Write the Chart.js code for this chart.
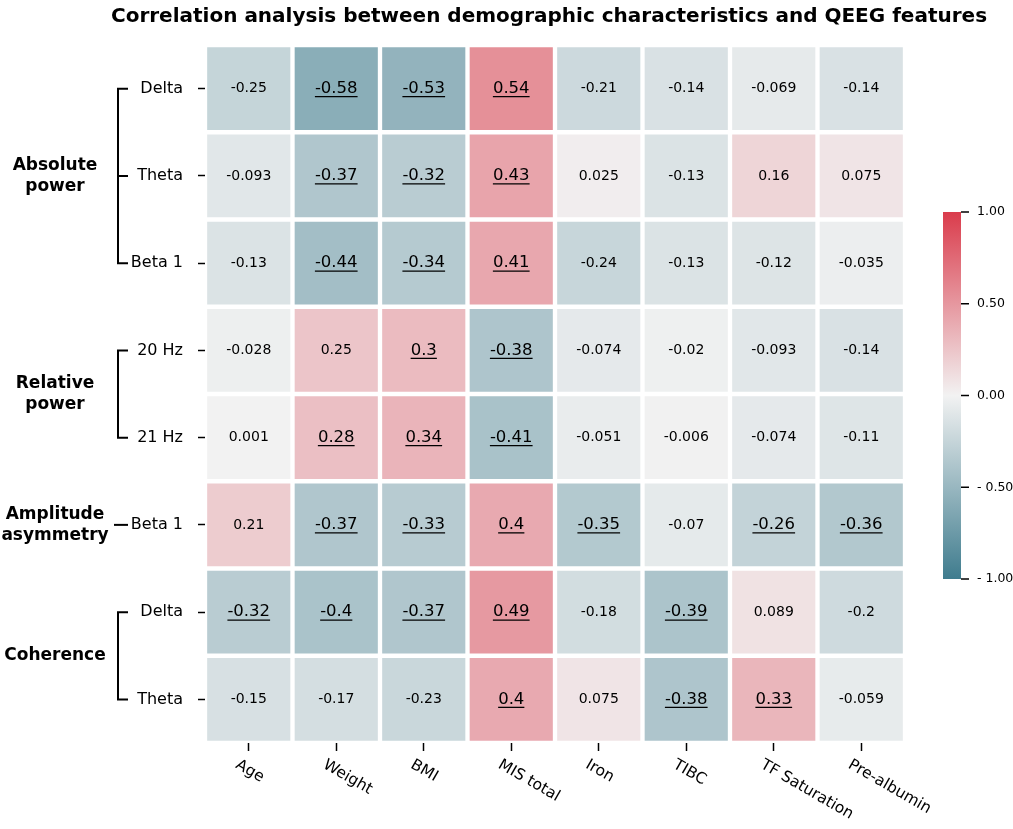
<!DOCTYPE html>
<html>
<head>
<meta charset="utf-8">
<title>Correlation heatmap</title>
<script src="https://cdn.jsdelivr.net/npm/chart.js@4.4.1/dist/chart.umd.min.js"></script>
<style>
  html, body { margin: 0; padding: 0; background: #fff; }
</style>
</head>
<body>
<canvas id="heatmap" width="1013" height="829"></canvas>
<script>
const columns = ['Age', 'Weight', 'BMI', 'MIS total', 'Iron', 'TIBC', 'TF Saturation', 'Pre-albumin'];
const rowNames = ['Delta', 'Theta', 'Beta 1', '20 Hz', '21 Hz', 'Beta 1', 'Delta', 'Theta'];

// row groups on the left (first row index, last row index)
const groupNames = [['Absolute', 'power'], ['Relative', 'power'], ['Amplitude', 'asymmetry'], ['Coherence']];
const groupFrom = [0, 3, 5, 6];
const groupTo = [2, 4, 5, 7];

// correlation coefficients, one array per row
const absDelta  = [-0.25, -0.58, -0.53, 0.54, -0.21, -0.14, -0.069, -0.14];
const absTheta  = [-0.093, -0.37, -0.32, 0.43, 0.025, -0.13, 0.16, 0.075];
const absBeta1  = [-0.13, -0.44, -0.34, 0.41, -0.24, -0.13, -0.12, -0.035];
const rel20Hz   = [-0.028, 0.25, 0.3, -0.38, -0.074, -0.02, -0.093, -0.14];
const rel21Hz   = [0.001, 0.28, 0.34, -0.41, -0.051, -0.006, -0.074, -0.11];
const asymBeta1 = [0.21, -0.37, -0.33, 0.4, -0.35, -0.07, -0.26, -0.36];
const cohDelta  = [-0.32, -0.4, -0.37, 0.49, -0.18, -0.39, 0.089, -0.2];
const cohTheta  = [-0.15, -0.17, -0.23, 0.4, 0.075, -0.38, 0.33, -0.059];

// significant cells (underlined in the picture)
const sigAbsDelta  = [0, 1, 1, 1, 0, 0, 0, 0];
const sigAbsTheta  = [0, 1, 1, 1, 0, 0, 0, 0];
const sigAbsBeta1  = [0, 1, 1, 1, 0, 0, 0, 0];
const sigRel20Hz   = [0, 0, 1, 1, 0, 0, 0, 0];
const sigRel21Hz   = [0, 1, 1, 1, 0, 0, 0, 0];
const sigAsymBeta1 = [0, 1, 1, 1, 1, 0, 1, 1];
const sigCohDelta  = [1, 1, 1, 1, 0, 1, 0, 0];
const sigCohTheta  = [0, 0, 0, 1, 0, 1, 1, 0];

const cbTicks = [1, 0.5, 0, -0.5, -1];
const cbLabels = ['1.00', '0.50', '0.00', '- 0.50', '- 1.00'];

const rows = [absDelta, absTheta, absBeta1, rel20Hz, rel21Hz, asymBeta1, cohDelta, cohTheta];
const sigRows = [sigAbsDelta, sigAbsTheta, sigAbsBeta1, sigRel20Hz, sigRel21Hz, sigAsymBeta1, sigCohDelta, sigCohTheta];

const negEnd = [63, 124, 142];
const midCol = [242, 242, 242];
const posEnd = [218, 60, 76];

function cellColor(v) {
  const t = Math.min(1, Math.abs(v));
  const end = v < 0 ? negEnd : posEnd;
  const c = midCol.map((m, i) => Math.round(m + (end[i] - m) * t));
  return `rgb(${c[0]}, ${c[1]}, ${c[2]})`;
}

const fmt = v => String(Number(v.toPrecision(2)));

const FONT = '"DejaVu Sans", sans-serif';
Chart.defaults.font.family = FONT;
Chart.defaults.color = '#000';

const extras = {
  id: 'extras',
  afterDatasetsDraw(chart) {
    const ctx = chart.ctx;
    ctx.save();
    ctx.fillStyle = '#000';
    ctx.strokeStyle = '#000';
    ctx.textAlign = 'center';
    ctx.textBaseline = 'middle';
    chart.data.datasets.forEach((ds, r) => {
      chart.getDatasetMeta(r).data.forEach((bar, c) => {
        const sig = sigRows[r][c];
        const txt = fmt(rows[r][c]);
        const cx = bar.x;
        const cy = (bar.y + bar.base) / 2;
        ctx.font = (sig ? '16.5px ' : '14px ') + FONT;
        ctx.fillText(txt, cx, cy);
        if (sig) {
          const w = ctx.measureText(txt).width;
          ctx.lineWidth = 1.3;
          ctx.beginPath();
          ctx.moveTo(cx - w / 2, cy + 8);
          ctx.lineTo(cx + w / 2, cy + 8);
          ctx.stroke();
        }
      });
    });
    ctx.restore();
  },
  afterDraw(chart) {
    const { ctx, chartArea, scales: { x, y } } = chart;
    ctx.save();
    ctx.fillStyle = '#000';
    ctx.strokeStyle = '#000';

    // title
    ctx.font = 'bold 20px ' + FONT;
    ctx.textAlign = 'center';
    ctx.textBaseline = 'alphabetic';
    ctx.fillText('Correlation analysis between demographic characteristics and QEEG features',
      (chartArea.left + chartArea.right) / 2 - 6, 22);

    // rotated column labels
    ctx.font = '15.5px ' + FONT;
    ctx.textAlign = 'left';
    ctx.textBaseline = 'top';
    columns.forEach((name, i) => {
      const px = x.getPixelForValue(i);
      ctx.save();
      ctx.translate(px - 8, chartArea.bottom + 14);
      ctx.rotate(Math.PI / 6);
      ctx.fillText(name, 0, 0);
      ctx.restore();
    });

    // row groups with brackets
    const bx = 118;
    ctx.lineWidth = 2;
    groupNames.forEach((lines, g) => {
      const y0 = y.getPixelForValue(groupFrom[g] + 0.5);
      const y1 = y.getPixelForValue(groupTo[g] + 0.5);
      ctx.beginPath();
      if (y1 > y0) {
        ctx.moveTo(bx, y0);
        ctx.lineTo(bx, y1);
      }
      for (let r = groupFrom[g]; r <= groupTo[g]; r++) {
        const py = y.getPixelForValue(r + 0.5);
        ctx.moveTo(bx - (y1 > y0 ? 1 : 4), py);
        ctx.lineTo(bx + 10, py);
      }
      ctx.stroke();

      ctx.font = 'bold 17px ' + FONT;
      ctx.textAlign = 'center';
      ctx.textBaseline = 'middle';
      const mid = (y0 + y1) / 2;
      lines.forEach((t, k) => {
        ctx.fillText(t, 55, mid + (k - (lines.length - 1) / 2) * 21);
      });
    });

    // colour bar
    const cbL = 943, cbW = 18, cbTop = 212, cbH = 367;
    const grad = ctx.createLinearGradient(0, cbTop, 0, cbTop + cbH);
    grad.addColorStop(0, cellColor(1));
    grad.addColorStop(0.5, cellColor(0));
    grad.addColorStop(1, cellColor(-1));
    ctx.fillStyle = grad;
    ctx.fillRect(cbL, cbTop, cbW, cbH);

    ctx.fillStyle = '#000';
    ctx.lineWidth = 1.5;
    ctx.font = '12.5px ' + FONT;
    ctx.textAlign = 'left';
    ctx.textBaseline = 'middle';
    cbTicks.forEach((v, i) => {
      const py = cbTop + (1 - v) / 2 * cbH;
      ctx.beginPath();
      ctx.moveTo(cbL + cbW, py);
      ctx.lineTo(cbL + cbW + 8, py);
      ctx.stroke();
      ctx.fillText(cbLabels[i], cbL + cbW + 16, py);
    });
    ctx.restore();
  }
};

new Chart(document.getElementById('heatmap'), {
  type: 'bar',
  data: {
    labels: columns,
    datasets: rows.map((vals, r) => ({
      label: rowNames[r],
      data: vals.map(() => [r, r + 1]),
      backgroundColor: vals.map(cellColor),
      borderColor: '#ffffff',
      borderWidth: 2.5,
      borderSkipped: false,
      barPercentage: 1,
      categoryPercentage: 1,
      grouped: false
    }))
  },
  options: {
    responsive: false,
    animation: false,
    events: [],
    layout: { padding: { top: 45, right: 108, left: 0, bottom: 0 } },
    plugins: {
      legend: { display: false },
      tooltip: { enabled: false },
      title: { display: false }
    },
    scales: {
      x: {
        type: 'category',
        ticks: { display: false },
        grid: {
          offset: false,
          drawOnChartArea: false,
          drawTicks: true,
          tickLength: 8,
          tickColor: '#000',
          tickWidth: 1.5
        },
        border: { display: false },
        afterFit: scale => { scale.height = 86; }
      },
      y: {
        type: 'linear',
        min: 0,
        max: 8,
        reverse: true,
        afterBuildTicks: scale => {
          scale.ticks = rowNames.map((_, i) => ({ value: i + 0.5 }));
        },
        ticks: {
          autoSkip: false,
          padding: 15,
          font: { size: 16 },
          callback: (val, idx) => rowNames[idx]
        },
        grid: {
          drawOnChartArea: false,
          drawTicks: true,
          tickLength: 7,
          tickColor: '#000',
          tickWidth: 1.5
        },
        border: { display: false },
        afterFit: scale => { scale.width = 205; }
      }
    }
  },
  plugins: [extras]
});
</script>
</body>
</html>
